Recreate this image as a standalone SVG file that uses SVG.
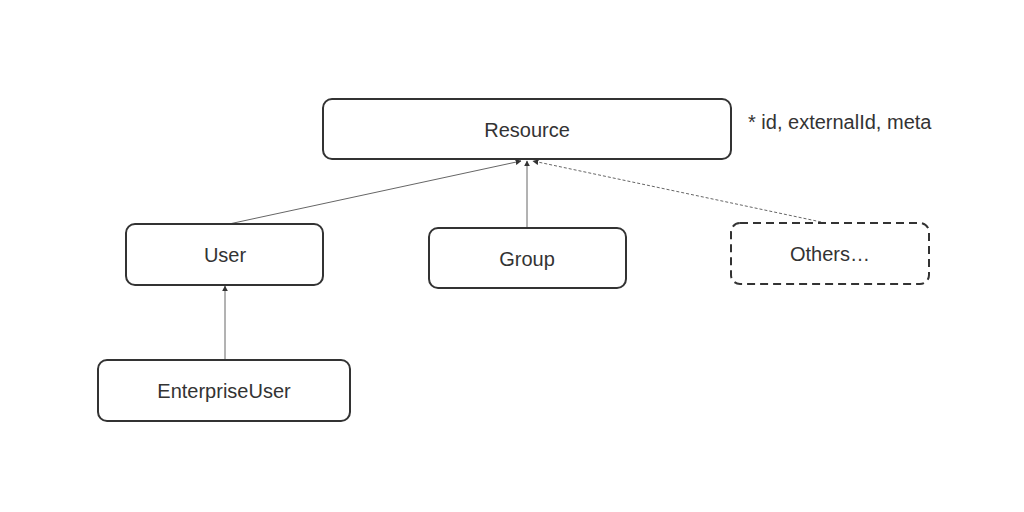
<svg xmlns="http://www.w3.org/2000/svg" width="1024" height="512" viewBox="0 0 1024 512">
<style>
.box{fill:#fff;stroke:#333;stroke-width:2}
.dash{stroke-dasharray:8 5}
.lbl{font-family:"Liberation Sans",Arial,sans-serif;font-size:20px;fill:#333;text-anchor:middle;dominant-baseline:central}
.note{font-family:"Liberation Sans",Arial,sans-serif;font-size:20px;fill:#333}
.c{stroke:#666;stroke-width:1;fill:none;marker-end:url(#arr)}
</style>
<defs>
<marker id="arr" viewBox="0 0 10 10" refX="9" refY="5" markerWidth="6" markerHeight="6" orient="auto-start-reverse" markerUnits="userSpaceOnUse">
<path d="M0,0 L10,5 L0,10 z" fill="#333"/>
</marker>
</defs>
<rect width="1024" height="512" fill="#fff"/>
<g id="connectors">
<line class="c" x1="229" y1="224" x2="521" y2="161"/>
<line class="c" x1="527" y1="228" x2="527" y2="161"/>
<line class="c" x1="826" y1="223" x2="533" y2="161" stroke-dasharray="3 2"/>
<line class="c" x1="225" y1="360" x2="225" y2="286"/>
</g>
<g id="resource">
<rect class="box" x="323" y="99" width="408" height="60" rx="9"/>
<text class="lbl" x="527" y="130">Resource</text>
</g>
<text class="note" x="748" y="129">* id, externalId, meta</text>
<g id="user">
<rect class="box" x="126" y="224" width="197" height="61" rx="9"/>
<text class="lbl" x="225" y="255">User</text>
</g>
<g id="group">
<rect class="box" x="429" y="228" width="197" height="60" rx="9"/>
<text class="lbl" x="527" y="259">Group</text>
</g>
<g id="others">
<rect class="box dash" x="731" y="223" width="198" height="61" rx="9"/>
<text class="lbl" x="830" y="254">Others…</text>
</g>
<g id="enterpriseuser">
<rect class="box" x="98" y="360" width="252" height="61" rx="9"/>
<text class="lbl" x="224" y="391">EnterpriseUser</text>
</g>
</svg>
